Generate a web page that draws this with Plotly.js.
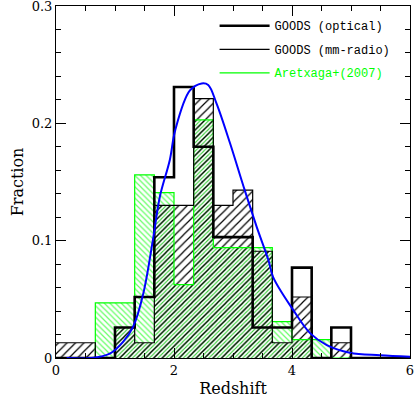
<!DOCTYPE html>
<html>
<head>
<meta charset="utf-8">
<script src="https://cdn.plot.ly/plotly-3.0.1.min.js"></script>
<style>
body { margin: 0; background: #fff; }
#plot { width: 414px; height: 401px; }
</style>
</head>
<body>
<div id="plot"></div>
<script>
// histogram bins are 1/3 wide in redshift, from 0 to 6
var binWidth = 1 / 3;
var nBins = 18;

var optical  = [0, 0, 0, 0.026, 0.052, 0.154, 0.231, 0.180, 0.103, 0.103, 0.026, 0.026, 0.077, 0, 0.026, 0, 0, 0];
var mmRadio  = [0.013, 0.013, 0, 0.026, 0.013, 0.130, 0.130, 0.221, 0.130, 0.143, 0.091, 0.013, 0.052, 0, 0.013, 0, 0, 0];
var aretxaga = [0, 0, 0.047, 0.047, 0.156, 0.141, 0.0625, 0.203, 0.094, 0.094, 0.094, 0.031, 0.0156, 0.0156, 0, 0, 0, 0];

// model curve
var curveZ = [0.18, 0.6, 0.92, 1.14, 1.31, 1.48, 1.65, 1.76, 1.93, 2.02, 2.27, 2.47, 2.58, 2.72, 2.95, 3.18, 3.40, 3.60, 3.68, 4.02, 4.31, 4.59, 4.98, 5.49, 6.0];
var curveF = [0, 0, 0.004, 0.014, 0.027, 0.055, 0.103, 0.1375, 0.169, 0.194, 0.228, 0.234, 0.2327, 0.217, 0.183, 0.146, 0.112, 0.0835, 0.069, 0.041, 0.021, 0.011, 0.0045, 0.0023, 0.001];

var yTicks = [0, 0.1, 0.2, 0.3];
var yTickText = ["0", "0.1", "0.2", "0.3"];
var xTicks = [0, 2, 4, 6];

var centers = [], edges = [];
for (var i = 0; i < nBins; i++) centers.push((i + 0.5) * binWidth);
for (var i = 0; i <= nBins; i++) edges.push(i * binWidth);

function stepY(vals) {
	return vals.concat([vals[vals.length - 1]]);
}

// part of the bins where both samples overlap gets its own hatch
var overlap = [];
for (var i = 0; i < nBins; i++) overlap.push(Math.min(mmRadio[i], aretxaga[i]));

var traces = [];

traces.push({
	type: 'bar', x: centers, y: aretxaga, width: binWidth, showlegend: false,
	marker: { color: '#fff', line: { width: 0 },
		pattern: { shape: '\\', fgcolor: '#66ff66', bgcolor: '#fff', size: 4, solidity: 0.3 } }
});
traces.push({
	type: 'bar', x: centers, y: overlap, width: binWidth, showlegend: false,
	marker: { color: '#fff', line: { width: 0 },
		pattern: { shape: '/', fgcolor: '#33cc33', bgcolor: '#fff', size: 3, solidity: 0.35 } }
});
traces.push({
	type: 'bar', x: centers, y: mmRadio, width: binWidth, showlegend: false,
	marker: { color: 'rgba(0,0,0,0)', line: { width: 0 },
		pattern: { shape: '/', fgcolor: '#000', bgcolor: 'rgba(0,0,0,0)', size: 6, solidity: 0.2 } }
});

traces.push({
	type: 'scatter', mode: 'lines', x: edges, y: stepY(aretxaga), legendrank: 3, legendgroup: 'c',
	name: '<span style="color:#00ff00">Aretxaga+(2007)</span>',
	line: { shape: 'hv', color: '#00ff00', width: 1.2 }
});
traces.push({
	type: 'scatter', mode: 'lines', x: edges, y: stepY(mmRadio), legendrank: 2, legendgroup: 'b',
	name: 'GOODS (mm-radio)',
	line: { shape: 'hv', color: '#000', width: 1.2 }
});
traces.push({
	type: 'scatter', mode: 'lines', x: edges, y: stepY(optical), legendrank: 1, legendgroup: 'a',
	name: 'GOODS (optical)',
	line: { shape: 'hv', color: '#000', width: 2.6 }
});
traces.push({
	type: 'scatter', mode: 'lines', x: curveZ, y: curveF, showlegend: false,
	line: { shape: 'spline', color: '#0000ff', width: 2 }
});

var axisFont = { family: 'DejaVu Serif', size: 13, color: '#000' };

var layout = {
	width: 414,
	height: 401,
	margin: { l: 56, r: 4, t: 6, b: 43 },
	paper_bgcolor: '#fff',
	plot_bgcolor: '#fff',
	barmode: 'overlay',
	bargap: 0,
	hovermode: false,
	showlegend: true,
	legend: {
		x: 0.448, y: 0.985, xanchor: 'left', yanchor: 'top',
		bgcolor: 'rgba(0,0,0,0)',
		font: { family: 'Liberation Mono', size: 12, color: '#000' },
		traceorder: 'grouped',
		tracegroupgap: 4.5,
		itemwidth: 50
	},
	xaxis: {
		range: [0, 6],
		tickvals: xTicks,
		ticks: 'inside', ticklen: 10, tickcolor: '#000',
		ticklabeloverflow: 'allow',
		minor: { dtick: 0.5, ticks: 'inside', ticklen: 5, tickcolor: '#000' },
		showline: true, linecolor: '#000', linewidth: 1, mirror: 'allticks',
		showgrid: false, zeroline: false,
		tickfont: axisFont,
		title: { text: 'Redshift', font: { family: 'DejaVu Serif', size: 16, color: '#000' }, standoff: 6 }
	},
	yaxis: {
		range: [0, 0.3],
		tickvals: yTicks, ticktext: yTickText,
		ticks: 'inside', ticklen: 10, tickcolor: '#000',
		ticklabeloverflow: 'allow',
		minor: { dtick: 0.02, ticks: 'inside', ticklen: 5, tickcolor: '#000' },
		showline: true, linecolor: '#000', linewidth: 1, mirror: 'allticks',
		showgrid: false, zeroline: false,
		tickfont: axisFont,
		title: { text: 'Fraction', font: { family: 'DejaVu Serif', size: 16, color: '#000' }, standoff: 4 }
	}
};

Plotly.newPlot('plot', traces, layout, { staticPlot: true, displayModeBar: false });
</script>
</body>
</html>
